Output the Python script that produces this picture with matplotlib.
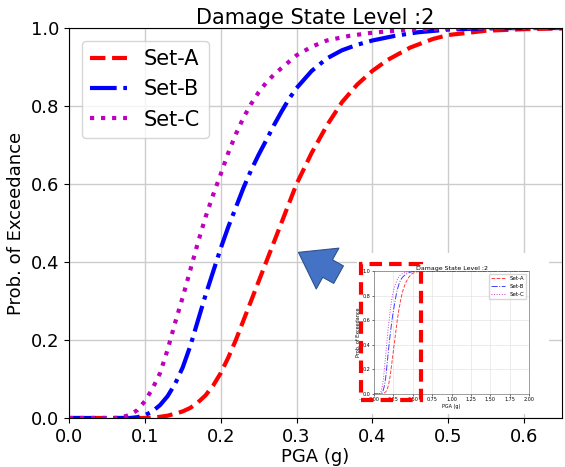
import matplotlib
matplotlib.use("Agg")
import matplotlib.pyplot as plt
from matplotlib.patches import Rectangle, FancyArrowPatch

# ------------------------------
# 데이터
# ------------------------------
pga_a = [0.0, 0.10, 0.11, 0.12, 0.13, 0.14, 0.15, 0.16, 0.17, 0.18, 0.19, 0.20,
         0.21, 0.22, 0.23, 0.24, 0.25, 0.26, 0.27, 0.28, 0.29, 0.30, 0.32, 0.34,
         0.36, 0.38, 0.40, 0.42, 0.45, 0.48, 0.50, 0.55, 0.60, 0.65, 2.0]
prob_a = [0.0, 0.0, 0.001, 0.003, 0.006, 0.011, 0.017, 0.026, 0.04, 0.058, 0.083, 0.115,
          0.155, 0.20, 0.25, 0.30, 0.35, 0.40, 0.45, 0.50, 0.55, 0.60, 0.68, 0.75,
          0.81, 0.855, 0.89, 0.918, 0.95, 0.972, 0.982, 0.993, 0.997, 0.999, 1.0]

pga_b = [0.0, 0.08, 0.09, 0.10, 0.11, 0.12, 0.13, 0.14, 0.15, 0.16, 0.17, 0.18,
         0.19, 0.20, 0.21, 0.22, 0.23, 0.24, 0.25, 0.26, 0.27, 0.28, 0.29, 0.30,
         0.32, 0.34, 0.36, 0.38, 0.40, 0.43, 0.46, 0.50, 0.55, 0.60, 2.0]
prob_b = [0.0, 0.0, 0.002, 0.007, 0.017, 0.033, 0.056, 0.088, 0.13, 0.185, 0.25, 0.315,
          0.375, 0.435, 0.49, 0.54, 0.59, 0.635, 0.675, 0.712, 0.75, 0.785, 0.818, 0.846,
          0.89, 0.922, 0.943, 0.957, 0.968, 0.98, 0.989, 0.996, 0.999, 1.0, 1.0]

pga_c = [0.0, 0.06, 0.07, 0.08, 0.09, 0.10, 0.11, 0.12, 0.13, 0.14, 0.15, 0.16,
         0.17, 0.18, 0.19, 0.20, 0.21, 0.22, 0.23, 0.24, 0.25, 0.26, 0.27, 0.28,
         0.30, 0.32, 0.34, 0.37, 0.40, 0.45, 0.50, 0.55, 2.0]
prob_c = [0.0, 0.0, 0.002, 0.008, 0.02, 0.043, 0.075, 0.115, 0.175, 0.245, 0.31, 0.38,
          0.45, 0.515, 0.572, 0.625, 0.68, 0.728, 0.77, 0.805, 0.835, 0.86, 0.88, 0.897,
          0.93, 0.952, 0.968, 0.98, 0.988, 0.996, 0.999, 1.0, 1.0]

labels = ["Set-A", "Set-B", "Set-C"]
title = "Damage State Level :2"

W, H = 565, 467
fig = plt.figure(figsize=(W / 100, H / 100), dpi=100)


def fx(px):
    return px / W


def fy(py):
    return 1 - py / H


# ------------------------------
# 메인 그래프
# ------------------------------
ax = fig.add_axes([fx(69), fy(418), (562 - 69) / W, (418 - 28) / H])
ax.plot(pga_a, prob_a, color="red", ls="--", lw=3, label=labels[0])
ax.plot(pga_b, prob_b, color="blue", ls="-.", lw=3, label=labels[1])
ax.plot(pga_c, prob_c, color="m", ls=":", lw=3, label=labels[2])
ax.set_xlim(0, 0.65)
ax.set_ylim(0, 1.0)
ax.set_xticks([0.0, 0.1, 0.2, 0.3, 0.4, 0.5, 0.6])
ax.set_yticks([0.0, 0.2, 0.4, 0.6, 0.8, 1.0])
ax.grid(True, color="#cccccc", lw=1)
ax.tick_params(labelsize=13)
ax.set_xlabel("PGA (g)", fontsize=13, labelpad=2)
ax.set_ylabel("Prob. of Exceedance", fontsize=13)
ax.set_title(title, fontsize=15, pad=3)
ax.legend(loc="upper left", fontsize=15, handlelength=1.8, borderaxespad=0.6)

# ------------------------------
# 삽입 그림 (이전 그래프 캡처)
# ------------------------------
panel = fig.add_axes([fx(357), fy(414), (549 - 357) / W, (414 - 253) / H])
panel.set_facecolor("white")
panel.set_xticks([])
panel.set_yticks([])
for s in panel.spines.values():
    s.set_visible(False)

ins = fig.add_axes([fx(374), fy(394), (529 - 374) / W, (394 - 271) / H])
ins.plot(pga_a, prob_a, color="red", ls="--", lw=0.7, alpha=0.75, label=labels[0])
ins.plot(pga_b, prob_b, color="blue", ls="-.", lw=0.7, alpha=0.75, label=labels[1])
ins.plot(pga_c, prob_c, color="m", ls=":", lw=0.7, alpha=0.75, label=labels[2])
ins.set_xlim(0, 2.0)
ins.set_ylim(0, 1.0)
ins.set_xticks([0.0, 0.25, 0.5, 0.75, 1.0, 1.25, 1.5, 1.75, 2.0])
ins.set_yticks([0.0, 0.2, 0.4, 0.6, 0.8, 1.0])
ins.xaxis.set_major_formatter(plt.FormatStrFormatter("%.2f"))
ins.grid(True, color="#dddddd", lw=0.4)
ins.tick_params(labelsize=3.5, length=1.5, width=0.4, pad=1)
for s in ins.spines.values():
    s.set_linewidth(0.4)
    s.set_color("#555555")
ins.set_xlabel("PGA (g)", fontsize=3.5, labelpad=1)
ins.set_ylabel("Prob. of Exceedance", fontsize=3.5, labelpad=1)
ins.set_title(title, fontsize=4.5, pad=1)
ins.legend(loc="upper right", fontsize=4, handlelength=2.5, framealpha=0.8)

# 빨간 점선 박스
box = Rectangle((fx(361), fy(400)), (421 - 361) / W, (400 - 264) / H,
                transform=fig.transFigure, fill=False, ec="red", lw=3,
                ls=(0, (3, 1.7)), zorder=10)
fig.patches.append(box)

# 파란 화살표
arrow = FancyArrowPatch((fx(341), fy(276)), (fx(296), fy(251)),
                        transform=fig.transFigure,
                        arrowstyle="simple,head_length=1.0,head_width=1.4,tail_width=0.6",
                        mutation_scale=24, fc="#4472C4", ec="#2F528F", lw=0.8, zorder=10)
fig.patches.append(arrow)

plt.savefig("out.png", dpi=100)
